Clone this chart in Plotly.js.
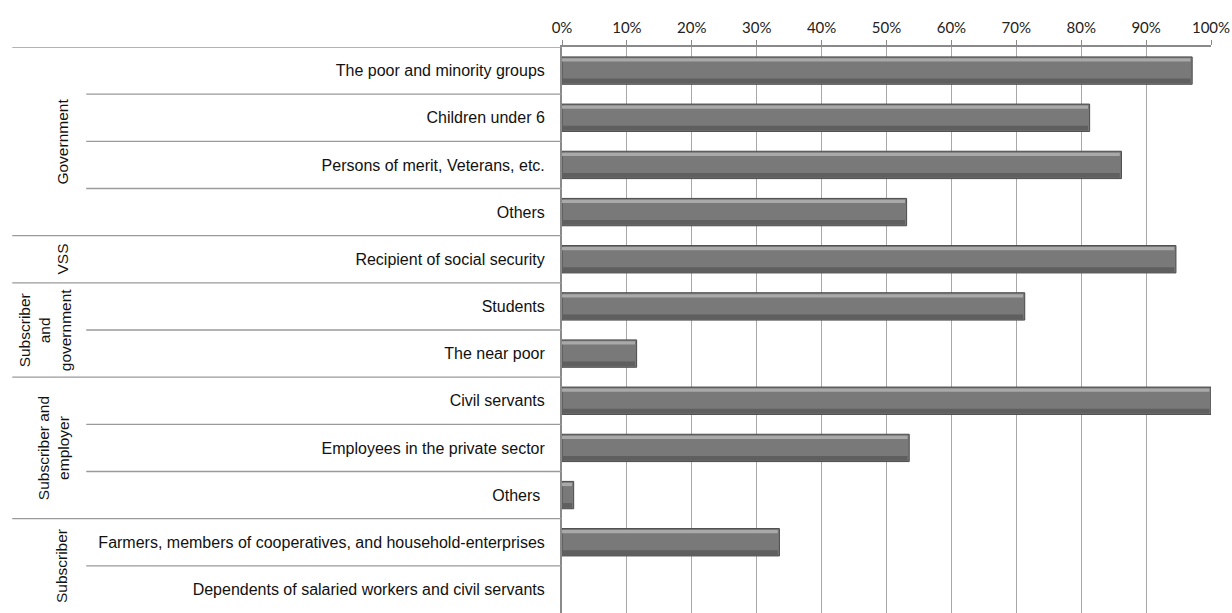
<!DOCTYPE html>
<html>
<head>
<meta charset="utf-8">
<script src="https://cdn.plot.ly/plotly-3.0.1.min.js"></script>
<style>html,body{margin:0;padding:0;background:#fff;}#chart{width:1232px;height:613px;}</style>
</head>
<body>
<div id="chart"></div>
<script>
// Data
const categories = [
  "The poor and minority groups",
  "Children under 6",
  "Persons of merit, Veterans, etc.",
  "Others",
  "Recipient of social security",
  "Students",
  "The near poor",
  "Civil servants",
  "Employees in the private sector",
  "Others ",
  "Farmers, members of cooperatives, and household-enterprises",
  "Dependents of salaried workers and civil servants"
];
const values = [97.1, 81.3, 86.2, 53.1, 94.6, 71.3, 11.5, 100, 53.5, 1.8, 33.5, 0];
const groupNames = ["Government", "VSS", "Subscriber<br>and<br>government", "Subscriber and<br>employer", "Subscriber"];
const groupSizes = [4, 1, 2, 3, 2];
const xTickVals = [0,10,20,30,40,50,60,70,80,90,100];
const xTickText = ["0%","10%","20%","30%","40%","50%","60%","70%","80%","90%","100%"];

const idx = categories.map((c,i)=>i);

const mainBar = {
  type: 'bar', orientation: 'h',
  x: values, y: idx,
  width: 0.58,
  marker: {color: '#797979', line: {color: '#4a4a4a', width: values.map(v => v > 0 ? 1 : 0)}},
  hoverinfo: 'x+text', text: categories, textposition: 'none'
};
const highlight = {
  type: 'bar', orientation: 'h',
  x: values.map(v => v > 0 ? v - 0.25 : 0), y: idx,
  width: 0.07, offset: -0.26,
  marker: {color: '#a9a9a9', line: {width: 0}},
  hoverinfo: 'skip'
};
const shade = {
  type: 'bar', orientation: 'h',
  x: values.map(v => v > 0 ? v - 0.25 : 0), y: idx,
  width: 0.1, offset: 0.17,
  marker: {color: '#5f5f5f', line: {width: 0}},
  hoverinfo: 'skip'
};

// layout helpers
const x0px = 562, x100px = 1211.3;
const toPaper = px => (px - x0px) / (x100px - x0px);

const shapes = [];
const annotations = [];
let start = 0;
const groupCenterPx = [62, 62, 44, 54, 62];
groupSizes.forEach((n, g) => {
  shapes.push({type:'line', xref:'paper', yref:'y', x0: toPaper(12), x1: 0, y0: start - 0.5, y1: start - 0.5,
    line:{color:'#9a9a9a', width:1.3}});
  for (let k = 1; k < n; k++) {
    shapes.push({type:'line', xref:'paper', yref:'y', x0: toPaper(86), x1: 0, y0: start + k - 0.5, y1: start + k - 0.5,
      line:{color:'#9a9a9a', width:1.3}});
  }
  annotations.push({
    xref:'paper', yref:'y', x: toPaper(groupCenterPx[g]), y: start + (n - 1) / 2,
    text: groupNames[g], textangle: -90, showarrow: false,
    xanchor:'center', yanchor:'middle',
    font:{family:'Liberation Sans, Arial, sans-serif', size:15.5, color:'#111'}
  });
  start += n;
});

const layout = {
  width: 1232, height: 613,
  margin: {l: 562, r: 21, t: 47, b: 0, pad: 0},
  paper_bgcolor: '#fff', plot_bgcolor: '#fff',
  showlegend: false,
  barmode: 'overlay',
  xaxis: {
    side: 'top', range: [0, 100], tickvals: xTickVals, ticktext: xTickText,
    showgrid: true, gridcolor: '#a8a8a8', gridwidth: 1,
    showline: true, linecolor: '#8a8a8a', linewidth: 2,
    ticks: 'outside', ticklen: 5, tickcolor: '#8a8a8a', tickwidth: 1,
    ticklabelstandoff: 1,
    zeroline: false, fixedrange: true,
    tickfont: {family: 'Lato, Carlito, sans-serif', size: 15, color: '#222'}
  },
  yaxis: {
    range: [11.5, -0.5], tickvals: idx, ticktext: categories,
    showgrid: false, zeroline: false,
    showline: true, linecolor: '#8a8a8a', linewidth: 2,
    ticks: 'outside', ticklen: 0, ticklabelstandoff: 12,
    tickfont: {family: 'Liberation Sans, Arial, sans-serif', size: 16, color: '#111'},
    fixedrange: true
  },
  shapes: shapes,
  annotations: annotations
};

Plotly.newPlot('chart', [mainBar, highlight, shade], layout, {displayModeBar: false, staticPlot: true});
</script>
</body>
</html>
